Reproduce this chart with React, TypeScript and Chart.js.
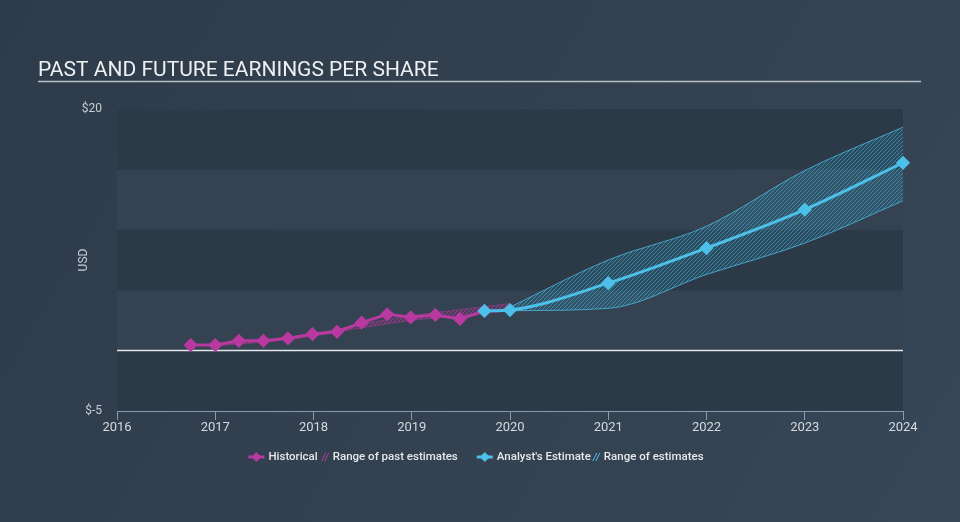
import React, { useEffect, useRef } from "react";
import { Chart, registerables } from "chart.js";
Chart.register(...registerables);

const titleText = "PAST AND FUTURE EARNINGS PER SHARE";
const yAxisTitle = "USD";

const histDates = [2016.75, 2017.0, 2017.24, 2017.49, 2017.74, 2017.99, 2018.24, 2018.49, 2018.75, 2018.99, 2019.24, 2019.49, 2019.74];
const histEps = [0.46, 0.46, 0.81, 0.81, 1.01, 1.37, 1.56, 2.31, 3.0, 2.76, 2.95, 2.62, 3.28];

const pastRangeDates = [2017.0, 2017.5, 2018.0, 2018.5, 2019.0, 2019.5, 2020.0];
const pastRangeLow = [0.4, 0.7, 1.2, 1.9, 2.5, 2.9, 3.3];
const pastRangeHigh = [0.5, 0.9, 1.4, 2.2, 2.9, 3.4, 3.9];

const estDates = [2019.74, 2020.0, 2021.0, 2022.0, 2023.0, 2024.0];
const estEps = [3.28, 3.36, 5.58, 8.49, 11.67, 15.55];

const rangeDates = [2020.0, 2021.0, 2022.0, 2023.0, 2024.0];
const rangeLow = [3.3, 3.5, 6.3, 8.9, 12.4];
const rangeHigh = [3.6, 7.5, 10.3, 14.9, 18.5];

const yMin = -5;
const yMax = 20;
const yStep = 5;
const xMin = 2016;
const xMax = 2024;

const MAGENTA = "#b8399f";
const CYAN = "#4cc0e8";

const legendItems = [
  { label: "Historical", kind: "line", color: MAGENTA, gap: 4 },
  { label: "Range of past estimates", kind: "hatch", color: MAGENTA, gap: 19 },
  { label: "Analyst's Estimate", kind: "line", color: CYAN, gap: 2 },
  { label: "Range of estimates", kind: "hatch", color: CYAN, gap: 0 },
];

function makeHatch(color: string, base: string) {
  const c = document.createElement("canvas");
  c.width = 4;
  c.height = 4;
  const g = c.getContext("2d")!;
  g.fillStyle = base;
  g.fillRect(0, 0, 4, 4);
  g.strokeStyle = color;
  g.lineWidth = 1;
  g.beginPath();
  g.moveTo(-1, 5);
  g.lineTo(5, -1);
  g.stroke();
  g.beginPath();
  g.moveTo(-1, 1);
  g.lineTo(1, -1);
  g.stroke();
  g.beginPath();
  g.moveTo(3, 5);
  g.lineTo(5, 3);
  g.stroke();
  return g.createPattern(c, "repeat")!;
}

const pts = (xs: number[], ys: number[]) => xs.map((x, i) => ({ x, y: ys[i] }));

const decorPlugin = {
  id: "decor",
  beforeDatasetsDraw(chart: any) {
    const { ctx, chartArea } = chart;
    const y = chart.scales.y;
    ctx.save();
    for (let v = yMin, i = 0; v < yMax; v += yStep, i++) {
      const top = y.getPixelForValue(v + yStep);
      const bot = y.getPixelForValue(v);
      ctx.fillStyle = i % 2 === 0 ? "#2c3947" : "#344251";
      ctx.fillRect(chartArea.left, top, chartArea.right - chartArea.left, bot - top);
    }
    const z = y.getPixelForValue(0);
    ctx.strokeStyle = "#e4e7ea";
    ctx.lineWidth = 1.5;
    ctx.beginPath();
    ctx.moveTo(chartArea.left, z);
    ctx.lineTo(chartArea.right, z);
    ctx.stroke();
    ctx.restore();
  },
  afterDraw(chart: any) {
    const { ctx, chartArea } = chart;
    ctx.save();
    ctx.fillStyle = "#eef0f2";
    ctx.font = "21px Roboto";
    ctx.textBaseline = "alphabetic";
    ctx.textAlign = "left";
    ctx.fillText(titleText, 38, 76);
    ctx.strokeStyle = "#b9bfc6";
    ctx.lineWidth = 1.5;
    ctx.beginPath();
    ctx.moveTo(38, 81.5);
    ctx.lineTo(921, 81.5);
    ctx.stroke();
    ctx.save();
    ctx.translate(84, (chartArea.top + chartArea.bottom) / 2);
    ctx.rotate(-Math.PI / 2);
    ctx.font = "12px Roboto";
    ctx.fillStyle = "#c9ced4";
    ctx.textAlign = "center";
    ctx.textBaseline = "middle";
    ctx.fillText(yAxisTitle, 0, 0);
    ctx.restore();
    ctx.font = "500 11.5px Roboto";
    ctx.textBaseline = "middle";
    ctx.textAlign = "left";
    const ly = 457;
    const widths = legendItems.map((it) => {
      const iconW = it.kind === "line" ? 20 : 11;
      return iconW + ctx.measureText(it.label).width + it.gap;
    });
    const total = widths.reduce((a, b) => a + b, 0);
    let x = 476 - total / 2;
    legendItems.forEach((it) => {
      if (it.kind === "line") {
        ctx.strokeStyle = it.color;
        ctx.lineWidth = 3;
        ctx.beginPath();
        ctx.moveTo(x, ly);
        ctx.lineTo(x + 16, ly);
        ctx.stroke();
        ctx.fillStyle = it.color;
        ctx.beginPath();
        ctx.moveTo(x + 8, ly - 5);
        ctx.lineTo(x + 13, ly);
        ctx.lineTo(x + 8, ly + 5);
        ctx.lineTo(x + 3, ly);
        ctx.closePath();
        ctx.fill();
        x += 20;
      } else {
        ctx.strokeStyle = it.color;
        ctx.lineWidth = 1;
        for (let k = 0; k < 2; k++) {
          ctx.beginPath();
          ctx.moveTo(x + k * 3, ly + 4);
          ctx.lineTo(x + k * 3 + 4, ly - 4);
          ctx.stroke();
        }
        x += 11;
      }
      ctx.fillStyle = "#e6e9ec";
      ctx.fillText(it.label, x, ly);
      x += ctx.measureText(it.label).width + it.gap;
    });
    ctx.restore();
  },
};

export default function App() {
  const ref = useRef<HTMLCanvasElement>(null);
  useEffect(() => {
    const cyanHatch = makeHatch("rgba(62,172,215,0.6)", "rgba(62,172,215,0.16)");
    const magHatch = makeHatch("rgba(184,57,159,0.75)", "rgba(184,57,159,0.15)");
    const chart = new Chart(ref.current!, {
      type: "line",
      data: {
        datasets: [
          {
            label: "Historical",
            data: pts(histDates, histEps),
            borderColor: MAGENTA,
            backgroundColor: MAGENTA,
            borderWidth: 3,
            pointStyle: "rectRot",
            pointRadius: 5,
            pointHoverRadius: 5,
            tension: 0,
            fill: false,
            order: 2,
            clip: false as any,
          },
          {
            label: "Analyst's Estimate",
            data: pts(estDates, estEps),
            borderColor: CYAN,
            backgroundColor: CYAN,
            borderWidth: 3,
            pointStyle: "rectRot",
            pointRadius: 5,
            pointHoverRadius: 5,
            cubicInterpolationMode: "monotone",
            fill: false,
            order: 1,
            clip: false as any,
          },
          {
            label: "pastLow",
            data: pts(pastRangeDates, pastRangeLow),
            borderColor: "rgba(184,57,159,0.6)",
            borderWidth: 0.8,
            pointRadius: 0,
            cubicInterpolationMode: "monotone",
            fill: false,
            order: 5,
          },
          {
            label: "pastHigh",
            data: pts(pastRangeDates, pastRangeHigh),
            borderColor: "rgba(184,57,159,0.6)",
            borderWidth: 0.8,
            backgroundColor: magHatch as any,
            pointRadius: 0,
            cubicInterpolationMode: "monotone",
            fill: "-1",
            order: 5,
          },
          {
            label: "estLow",
            data: pts(rangeDates, rangeLow),
            borderColor: "rgba(76,192,232,0.75)",
            borderWidth: 1,
            pointRadius: 0,
            cubicInterpolationMode: "monotone",
            fill: false,
            order: 6,
          },
          {
            label: "estHigh",
            data: pts(rangeDates, rangeHigh),
            borderColor: "rgba(76,192,232,0.75)",
            borderWidth: 1,
            backgroundColor: cyanHatch as any,
            pointRadius: 0,
            cubicInterpolationMode: "monotone",
            fill: "-1",
            order: 6,
          },
        ],
      },
      options: {
        animation: false,
        responsive: false,
        maintainAspectRatio: false,
        layout: { padding: { left: 0, right: 57, top: 109, bottom: 81 } },
        plugins: {
          legend: { display: false },
          tooltip: { enabled: false },
          title: { display: false },
        },
        scales: {
          x: {
            type: "linear",
            min: xMin,
            max: xMax,
            ticks: {
              stepSize: 1,
              autoSkip: false,
              color: "#d5d9de",
              font: { family: "Roboto", size: 13 },
              padding: 0,
              callback: (v: any) => String(v),
            },
            grid: {
              drawOnChartArea: false,
              drawTicks: true,
              tickLength: 9,
              color: "#8d9aa9",
            },
            border: { display: true, color: "#8d9aa9", width: 1 },
            afterFit: (s: any) => {
              s.height = 30;
            },
          },
          y: {
            type: "linear",
            min: yMin,
            max: yMax,
            ticks: {
              stepSize: yStep,
              color: "#c9ced4",
              font: { family: "Roboto", size: 12 },
              padding: 15,
              callback: (v: any) => (v === yMax || v === yMin ? "$" + v : ""),
            },
            grid: { display: false, drawTicks: false },
            border: { display: false },
            afterFit: (s: any) => {
              s.width = 117;
            },
          },
        },
      },
      plugins: [decorPlugin],
    });
    return () => chart.destroy();
  }, []);
  return (
    <div
      style={{
        position: "fixed",
        left: 0,
        top: 0,
        width: 960,
        height: 522,
        background: "linear-gradient(120deg, #2e3b4a 0%, #334150 55%, #374757 100%)",
      }}
    >
      <canvas ref={ref} width={960} height={522} style={{ display: "block" }} />
    </div>
  );
}
